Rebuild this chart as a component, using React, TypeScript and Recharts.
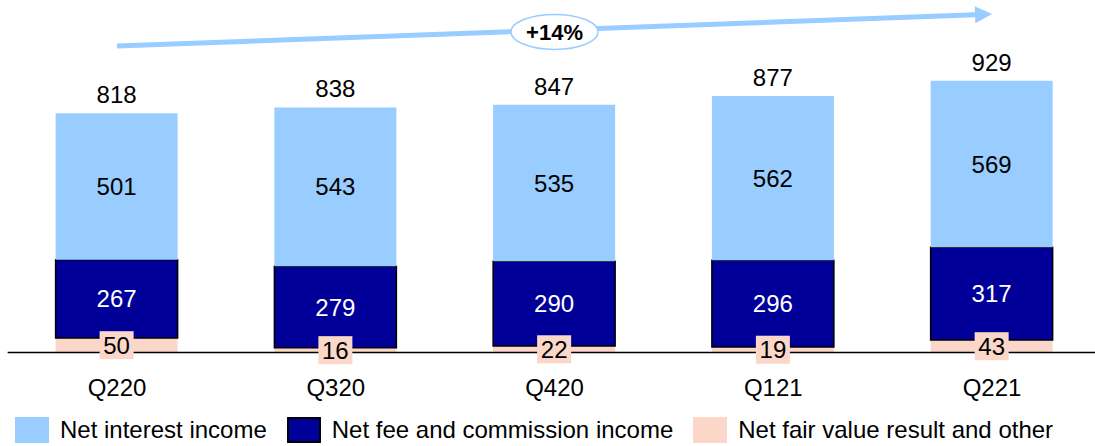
import React from 'react';
import { BarChart, Bar, XAxis, YAxis, LabelList, Legend, ReferenceLine, ReferenceDot } from 'recharts';

const quarters = ['Q220', 'Q320', 'Q420', 'Q121', 'Q221'];
const netInterest = [501, 543, 535, 562, 569];
const netFee = [267, 279, 290, 296, 317];
const netFairValue = [50, 16, 22, 19, 43];
const totals = [818, 838, 847, 877, 929];

const growthLabel = '+14%';
const arrowStartValue = 1048;
const arrowEndValue = 1157;
const growthBadgeValue = 1096;

const LIGHT = '#99CCFF';
const DARK = '#000099';
const PINK = '#FAD7C8';
const FONT = "'Liberation Sans', Arial, sans-serif";
const FS = 24;

const data = quarters.map((q, i) => ({
  quarter: q,
  interest: netInterest[i],
  fee: netFee[i],
  fair: netFairValue[i],
  total: totals[i],
}));

const legendItems = [
  { label: 'Net interest income', color: LIGHT, border: false },
  { label: 'Net fee and commission income', color: DARK, border: true },
  { label: 'Net fair value result and other', color: PINK, border: false },
];

const renderLegend = () => (
  <div style={{ display: 'flex', alignItems: 'center', height: 26, paddingLeft: 15, fontFamily: FONT }}>
    {legendItems.map((it) => (
      <div key={it.label} style={{ display: 'flex', alignItems: 'center', marginRight: 20 }}>
        <div
          style={{
            width: 34,
            height: 26,
            boxSizing: 'border-box',
            background: it.color,
            border: it.border ? '2px solid #000' : 'none',
          }}
        />
        <span style={{ marginLeft: 11, fontSize: FS, lineHeight: '26px', whiteSpace: 'nowrap', color: '#000' }}>
          {it.label}
        </span>
      </div>
    ))}
  </div>
);

const FairLabel = (props: any) => {
  const { x, y, width, height, value } = props;
  const cx = x + width / 2;
  const cy = y + height / 2;
  const bw = String(value).length * 13 + 8;
  const bh = 28;
  return (
    <g>
      <rect x={cx - bw / 2} y={cy - bh / 2} width={bw} height={bh} fill={PINK} />
      <text x={cx} y={cy + FS * 0.355} textAnchor="middle" fontSize={FS} fontFamily={FONT} fill="#000">
        {value}
      </text>
    </g>
  );
};

const ArrowShape = (props: any) => {
  const { x1, y1, x2, y2 } = props;
  const dx = x2 - x1;
  const dy = y2 - y1;
  const len = Math.sqrt(dx * dx + dy * dy);
  const ux = dx / len;
  const uy = dy / len;
  const headLen = 17;
  const headHalf = 8.5;
  const bx = x2 - ux * headLen;
  const by = y2 - uy * headLen;
  const px = -uy;
  const py = ux;
  return (
    <g>
      <line x1={x1} y1={y1} x2={bx} y2={by} stroke={LIGHT} strokeWidth={5} />
      <polygon
        points={`${x2},${y2} ${bx + px * headHalf},${by + py * headHalf} ${bx - px * headHalf},${by - py * headHalf}`}
        fill={LIGHT}
      />
    </g>
  );
};

const BadgeShape = (props: any) => {
  const { cx, cy } = props;
  return (
    <g>
      <ellipse cx={cx} cy={cy} rx={43.5} ry={17.5} fill="#fff" stroke={LIGHT} strokeWidth={1.5} />
      <text x={cx} y={cy + 22 * 0.355} textAnchor="middle" fontSize={22} fontWeight="bold" fontFamily={FONT} fill="#000">
        {growthLabel}
      </text>
    </g>
  );
};

const XTick = (props: any) => {
  const { x, y, payload } = props;
  return (
    <text x={x} y={y + 43.5} textAnchor="middle" fontSize={FS} fontFamily={FONT} fill="#000">
      {payload.value}
    </text>
  );
};

export default function App() {
  return (
    <div style={{ position: 'absolute', left: 0, top: 0, width: 1095, height: 446, overflow: 'hidden', background: '#fff' }}>
      <BarChart
        width={1102}
        height={446}
        data={data}
        margin={{ top: 1.5, right: 0.6, left: 7.625, bottom: 3 }}
        barSize={122}
      >
        <XAxis
          dataKey="quarter"
          interval={0}
          tickLine={false}
          tickSize={0}
          tickMargin={0}
          height={64.5}
          axisLine={{ stroke: '#000', strokeWidth: 1.5 }}
          tick={<XTick />}
        />
        <YAxis hide domain={[0, 1200]} />
        <Legend
          verticalAlign="bottom"
          content={renderLegend}
          wrapperStyle={{ left: 0, bottom: 3, width: 1095, height: 26 }}
        />
        <Bar dataKey="fair" stackId="a" fill={PINK} isAnimationActive={false}>
          <LabelList dataKey="fair" content={<FairLabel />} />
        </Bar>
        <Bar dataKey="fee" stackId="a" fill={DARK} stroke="#000" strokeWidth={1.5} isAnimationActive={false}>
          <LabelList dataKey="fee" position="center" fill="#fff" fontSize={FS} fontFamily={FONT} />
        </Bar>
        <Bar dataKey="interest" stackId="a" fill={LIGHT} isAnimationActive={false}>
          <LabelList dataKey="interest" position="center" fill="#000" fontSize={FS} fontFamily={FONT} />
          <LabelList dataKey="total" position="top" offset={10} fill="#000" fontSize={FS} fontFamily={FONT} />
        </Bar>
        <ReferenceLine
          segment={[
            { x: quarters[0], y: arrowStartValue },
            { x: quarters[quarters.length - 1], y: arrowEndValue },
          ]}
          ifOverflow="visible"
          shape={(p: any) => <ArrowShape {...p} />}
        />
        <ReferenceDot
          x={quarters[2]}
          y={growthBadgeValue}
          ifOverflow="visible"
          shape={(p: any) => <BadgeShape {...p} />}
        />
      </BarChart>
    </div>
  );
}
